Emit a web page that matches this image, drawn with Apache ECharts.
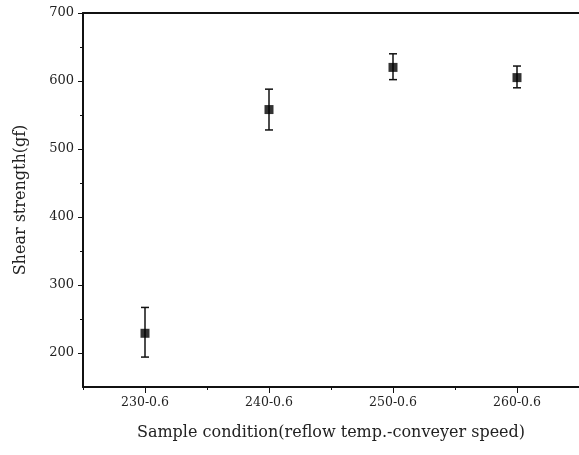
<!DOCTYPE html>
<html>
<head>
<meta charset="utf-8">
<script src="https://cdn.jsdelivr.net/npm/echarts@6/dist/echarts.min.js"></script>
<style>html,body{margin:0;padding:0;background:#fff}#c{width:579px;height:455px}</style>
</head>
<body>
<div id="c"></div>
<script>
const categories = ['230-0.6', '240-0.6', '250-0.6', '260-0.6'];
const means = [229, 558, 620, 605];
const upper = [267, 588, 640, 622];
const lower = [194, 528, 602, 590];
const yLabelValues = [200, 300, 400, 500, 600, 700];
const yMinorValues = [250, 350, 450, 550, 650];

const FONT = '"DejaVu Serif", "Liberation Serif", serif';
const chart = echarts.init(document.getElementById('c'));
const errData = categories.map((c, i) => [i, lower[i], upper[i]]);
chart.setOption({
  animation: false,
  backgroundColor: '#fff',
  grid: { left: 83, top: 13, right: -1, bottom: 68, show: false },
  xAxis: [{
    type: 'category', data: categories, boundaryGap: true,
    axisLine: { lineStyle: { color: '#111', width: 2 } },
    axisTick: { show: true, length: 3, lineStyle: { color: '#111', width: 1 } },
    axisLabel: { color: '#222', fontFamily: FONT, fontSize: 12.5, margin: 9 },
    name: 'Sample condition(reflow temp.-conveyer speed)', nameLocation: 'middle', nameGap: 38,
    nameTextStyle: { color: '#222', fontFamily: FONT, fontSize: 16 }
  }, {
    type: 'category', data: categories, boundaryGap: true, position: 'bottom',
    axisLine: { show: false },
    axisTick: { show: true, alignWithLabel: true, length: 6, lineStyle: { color: '#111', width: 1 } },
    axisLabel: { show: false }
  }, {
    type: 'category', data: categories, boundaryGap: true, position: 'top',
    axisLine: { show: true, lineStyle: { color: '#111', width: 2 } },
    axisTick: { show: false },
    axisLabel: { show: false }
  }],
  yAxis: [{
    type: 'value', min: 150, max: 700, interval: 50,
    splitLine: { show: false },
    axisLine: { show: true, lineStyle: { color: '#111', width: 2 } },
    axisTick: { show: true, length: 5, customValues: yLabelValues, lineStyle: { color: '#111', width: 1 } },
    axisLabel: { customValues: yLabelValues, color: '#222', fontFamily: FONT, fontSize: 13, margin: 9 },
    name: 'Shear strength(gf)', nameLocation: 'middle', nameGap: 54, nameRotate: 90,
    nameTextStyle: { color: '#222', fontFamily: FONT, fontSize: 16 }
  }, {
    type: 'value', min: 150, max: 700, interval: 50, position: 'left',
    splitLine: { show: false },
    axisLine: { show: false },
    axisTick: { show: true, length: 3, customValues: yMinorValues, lineStyle: { color: '#111', width: 1 } },
    axisLabel: { show: false }
  }],
  series: [{
    type: 'custom',
    xAxisIndex: 0, yAxisIndex: 0,
    data: errData,
    renderItem: function (params, api) {
      const x = api.value(0);
      const lo = api.coord([x, api.value(1)]);
      const hi = api.coord([x, api.value(2)]);
      const hw = 4;
      const st = { stroke: '#111', lineWidth: 1.5 };
      return {
        type: 'group',
        children: [
          { type: 'line', shape: { x1: lo[0], y1: lo[1], x2: hi[0], y2: hi[1] }, style: st },
          { type: 'line', shape: { x1: hi[0] - hw, y1: hi[1], x2: hi[0] + hw, y2: hi[1] }, style: st },
          { type: 'line', shape: { x1: lo[0] - hw, y1: lo[1], x2: lo[0] + hw, y2: lo[1] }, style: st }
        ]
      };
    },
    z: 2
  }, {
    type: 'scatter',
    xAxisIndex: 0, yAxisIndex: 0,
    data: means,
    symbol: 'rect', symbolSize: 9,
    itemStyle: { color: '#000' },
    z: 3
  }]
});
</script>
</body>
</html>
